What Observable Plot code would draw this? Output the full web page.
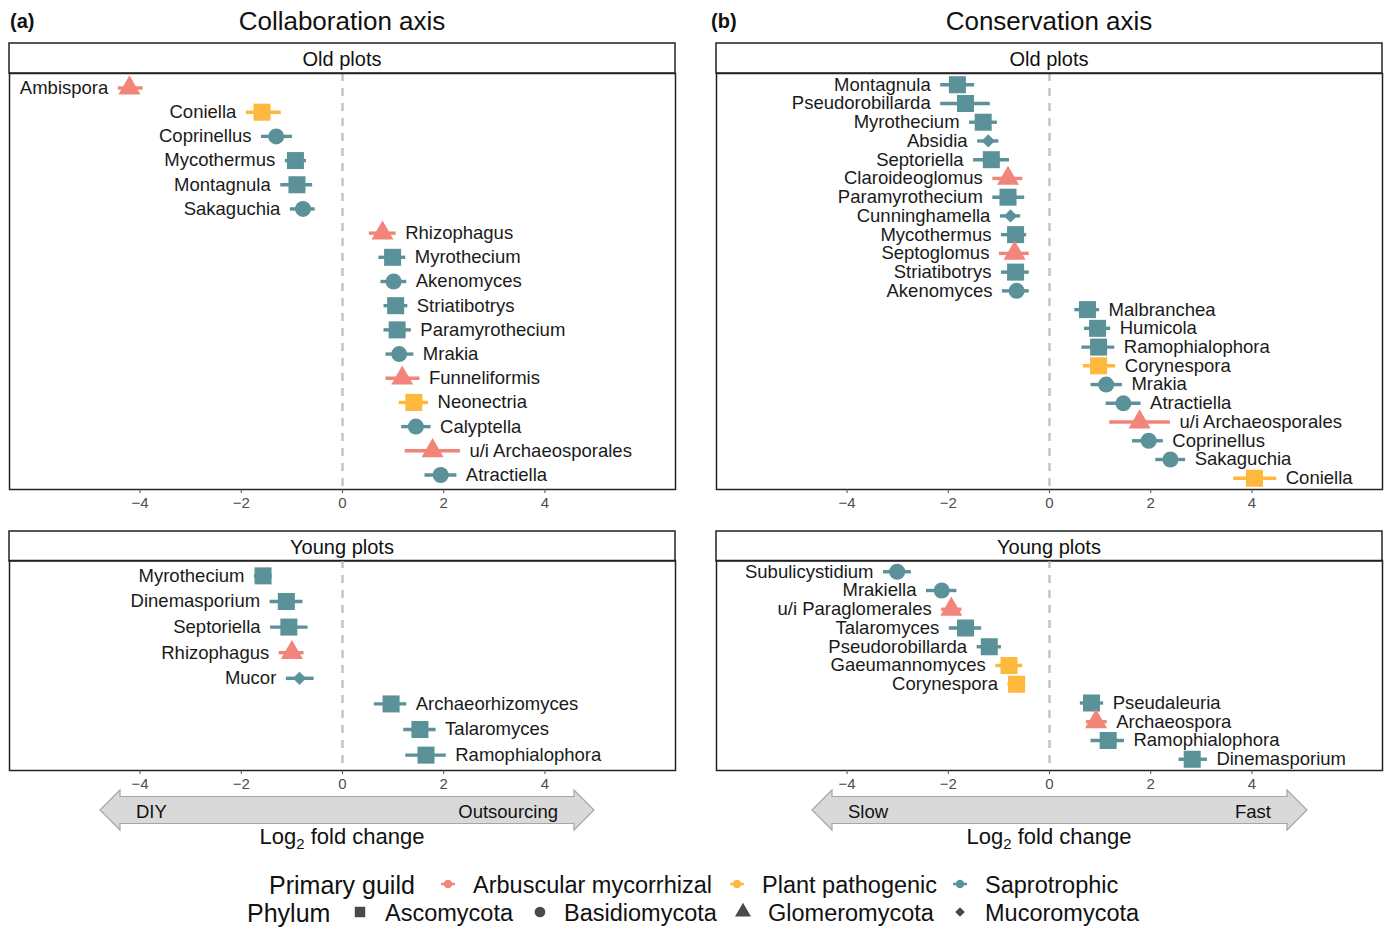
<!DOCTYPE html>
<html><head><meta charset="utf-8">
<script src="https://cdn.jsdelivr.net/npm/d3@7"></script>
<script src="https://cdn.jsdelivr.net/npm/@observablehq/plot@0.6"></script>
<style>
body{margin:0;background:#fff;font-family:"Liberation Sans",Arial,sans-serif;}
#root{position:relative;width:1389px;height:928px;overflow:hidden;background:#fff;}
#root > svg.panel{position:absolute;}
#overlay{position:absolute;left:0;top:0;}
svg.panel g[aria-label="x-axis tick label"]{font-size:15px !important;}
svg.panel g[aria-label="x-axis tick label"] text{font-size:15px !important;}
</style></head><body><div id="root"></div>
<script>
// ---------- categories ----------
const guildNames = ["Arbuscular mycorrhizal", "Plant pathogenic", "Saprotrophic"];
const guildColors = ["#F1857A", "#FDB83D", "#5B9198"];
const phylumNames = ["Ascomycota", "Basidiomycota", "Glomeromycota", "Mucoromycota"];
const xTicks = [-4, -2, 0, 2, 4];
const AM = "Arbuscular mycorrhizal", PP = "Plant pathogenic", SA = "Saprotrophic";
const ASC = "Ascomycota", BAS = "Basidiomycota", GLO = "Glomeromycota", MUC = "Mucoromycota";

// ---------- (a) Collaboration axis, Old plots ----------
const collabOldGenus = ["Ambispora","Coniella","Coprinellus","Mycothermus","Montagnula","Sakaguchia","Rhizophagus","Myrothecium","Akenomyces","Striatibotrys","Paramyrothecium","Mrakia","Funneliformis","Neonectria","Calyptella","u/i Archaeosporales","Atractiella"];
const collabOldLfc = [-4.21,-1.59,-1.31,-0.93,-0.90,-0.78,0.79,0.99,1.01,1.05,1.08,1.12,1.18,1.41,1.45,1.78,1.94];
const collabOldLo  = [-4.43,-1.90,-1.60,-1.13,-1.22,-1.03,0.53,0.72,0.76,0.82,0.82,0.86,0.86,1.12,1.17,1.24,1.63];
const collabOldHi  = [-3.94,-1.21,-0.99,-0.71,-0.59,-0.54,1.06,1.25,1.27,1.29,1.36,1.41,1.53,1.70,1.75,2.33,2.26];
const collabOldGuild = [AM,PP,SA,SA,SA,SA,AM,SA,SA,SA,SA,SA,AM,PP,SA,AM,SA];
const collabOldPhylum = [GLO,ASC,BAS,ASC,ASC,BAS,GLO,ASC,BAS,ASC,ASC,BAS,GLO,ASC,BAS,GLO,BAS];

// ---------- (a) Collaboration axis, Young plots ----------
const collabYoungGenus = ["Myrothecium","Dinemasporium","Septoriella","Rhizophagus","Mucor","Archaeorhizomyces","Talaromyces","Ramophialophora"];
const collabYoungLfc = [-1.57,-1.11,-1.06,-1.00,-0.85,0.96,1.53,1.65];
const collabYoungLo  = [-1.74,-1.43,-1.42,-1.25,-1.11,0.63,1.21,1.25];
const collabYoungHi  = [-1.39,-0.78,-0.68,-0.76,-0.56,1.27,1.85,2.05];
const collabYoungGuild = [SA,SA,SA,AM,SA,SA,SA,SA];
const collabYoungPhylum = [ASC,ASC,ASC,GLO,MUC,ASC,ASC,ASC];

// ---------- (b) Conservation axis, Old plots ----------
const consOldGenus = ["Montagnula","Pseudorobillarda","Myrothecium","Absidia","Septoriella","Claroideoglomus","Paramyrothecium","Cunninghamella","Mycothermus","Septoglomus","Striatibotrys","Akenomyces","Malbranchea","Humicola","Ramophialophora","Corynespora","Mrakia","Atractiella","u/i Archaeosporales","Coprinellus","Sakaguchia","Coniella"];
const consOldLfc = [-1.82,-1.66,-1.31,-1.21,-1.15,-0.82,-0.82,-0.77,-0.67,-0.69,-0.67,-0.65,0.75,0.95,0.97,0.97,1.12,1.46,1.78,1.96,2.39,4.05];
const consOldLo  = [-2.15,-2.15,-1.58,-1.42,-1.50,-1.12,-1.12,-0.97,-0.95,-0.99,-0.95,-0.93,0.50,0.69,0.64,0.67,0.82,1.12,1.19,1.64,2.10,3.64];
const consOldHi  = [-1.48,-1.17,-1.03,-1.00,-0.79,-0.53,-0.49,-0.57,-0.45,-0.40,-0.40,-0.40,0.99,1.21,1.29,1.31,1.44,1.81,2.39,2.25,2.69,4.49];
const consOldGuild = [SA,SA,SA,SA,SA,AM,SA,SA,SA,AM,SA,SA,SA,SA,SA,PP,SA,SA,AM,SA,SA,PP];
const consOldPhylum = [ASC,ASC,ASC,MUC,ASC,GLO,ASC,MUC,ASC,GLO,ASC,BAS,ASC,ASC,ASC,ASC,BAS,BAS,GLO,BAS,BAS,ASC];

// ---------- (b) Conservation axis, Young plots ----------
const consYoungGenus = ["Subulicystidium","Mrakiella","u/i Paraglomerales","Talaromyces","Pseudorobillarda","Gaeumannomyces","Corynespora","Pseudaleuria","Archaeospora","Ramophialophora","Dinemasporium"];
const consYoungLfc = [-3.01,-2.13,-1.94,-1.66,-1.19,-0.80,-0.65,0.83,0.92,1.16,2.82];
const consYoungLo  = [-3.28,-2.43,-2.13,-1.98,-1.43,-1.06,-0.82,0.61,0.73,0.82,2.56];
const consYoungHi  = [-2.73,-1.83,-1.73,-1.34,-0.95,-0.53,-0.49,1.07,1.14,1.48,3.12];
const consYoungGuild = [SA,SA,AM,SA,SA,PP,PP,SA,AM,SA,SA];
const consYoungPhylum = [BAS,BAS,GLO,ASC,ASC,ASC,ASC,ASC,GLO,ASC,ASC];

// ---------- drawing ----------
const FONT = '"Liberation Sans", Arial, sans-serif';
const symbolFor = {Ascomycota:["square",9.6], Basidiomycota:["circle",8.0], Glomeromycota:["triangle",8.2], Mucoromycota:["diamond2",6.0]};

function panel(genus, lfc, lo, hi, guild, phylum, innerH) {
  const data = genus.map((g, i) => ({genus: g, lfc: lfc[i], lo: lo[i], hi: hi[i], guild: guild[i], phylum: phylum[i]}));
  const dots = phylumNames.map(ph => {
    const [sym, r] = symbolFor[ph];
    return Plot.dot(data.filter(d => d.phylum === ph), {x: "lfc", y: "genus", fill: "guild", symbol: sym, r, stroke: "none"});
  });
  const svg = Plot.plot({
    width: 668, height: innerH + 1 + 32,
    marginLeft: 1, marginRight: 1, marginTop: 1, marginBottom: 32,
    style: {fontFamily: FONT, fontSize: "15px", background: "transparent", overflow: "visible"},
    x: {domain: [-6.58, 6.58]},
    y: {type: "point", domain: genus, padding: 0.6, round: false, axis: null},
    color: {domain: guildNames, range: guildColors},
    marks: [
      Plot.ruleX([0], {stroke: "#c4c4c4", strokeWidth: 2.5, strokeDasharray: "8,7"}),
      Plot.ruleY(data, {y: "genus", x1: "lo", x2: "hi", stroke: "guild", strokeWidth: 3.4}),
      ...dots,
      Plot.text(data.filter(d => d.lfc < 0), {x: "lo", y: "genus", text: "genus", textAnchor: "end", dx: -10, fontSize: 18.5, fill: "#1a1a1a"}),
      Plot.text(data.filter(d => d.lfc > 0), {x: "hi", y: "genus", text: "genus", textAnchor: "start", dx: 9, fontSize: 18.5, fill: "#1a1a1a"}),
      Plot.frame({stroke: "#222", strokeWidth: 1.5}),
      Plot.axisX({ticks: xTicks, tickSize: 4, tickPadding: 4, fontSize: 15, color: "#4d4d4d", label: null})
    ]
  });
  svg.classList.add("panel");
  svg.querySelectorAll('g[aria-label="x-axis tick label"]').forEach(g => g.setAttribute("font-size", 15));
  return svg;
}

const root = document.getElementById("root");

// overlay: titles, strips, arrows, axis titles, legend
const ov = d3.select(root).append("svg").attr("id", "overlay").attr("width", 1389).attr("height", 928)
  .style("font-family", FONT);

function txt(x, y, s, size, anchor = "start", weight = "normal", fill = "#111") {
  return ov.append("text").attr("x", x).attr("y", y).attr("font-size", size).attr("text-anchor", anchor)
    .attr("font-weight", weight).attr("dominant-baseline", "central").attr("fill", fill).text(s);
}

// panel titles
txt(10, 21, "(a)", 20, "start", "bold");
txt(342, 21, "Collaboration axis", 26, "middle");
txt(711, 21, "(b)", 20, "start", "bold");
txt(1049, 21, "Conservation axis", 26, "middle");

// strips
const strips = [[9, 43, "Old plots"], [9, 531, "Young plots"], [716, 43, "Old plots"], [716, 531, "Young plots"]];
for (const [x, y, s] of strips) {
  ov.append("rect").attr("x", x).attr("y", y).attr("width", 666).attr("height", 30)
    .attr("fill", "#fff").attr("stroke", "#222").attr("stroke-width", 1.5);
  txt(x + 333, y + 15.5, s, 20, "middle");
}

// arrows
function arrow(x0, x1, leftLab, rightLab) {
  const yc = 810, hw = 13.5, hh = 20, hl = 20;
  const pts = [[x0, yc], [x0 + hl, yc - hh], [x0 + hl, yc - hw], [x1 - hl, yc - hw], [x1 - hl, yc - hh], [x1, yc],
    [x1 - hl, yc + hh], [x1 - hl, yc + hw], [x0 + hl, yc + hw], [x0 + hl, yc + hh]];
  ov.append("polygon").attr("points", pts.map(p => p.join(",")).join(" "))
    .attr("fill", "#d9d9d9").attr("stroke", "#a6a6a6").attr("stroke-width", 1.2);
  txt(x0 + 36, yc + 1, leftLab, 18.5, "start");
  txt(x1 - 36, yc + 1, rightLab, 18.5, "end");
}
arrow(100, 594, "DIY", "Outsourcing");
arrow(812, 1307, "Slow", "Fast");

function axisTitle(cx) {
  const t = ov.append("text").attr("x", cx).attr("y", 836).attr("font-size", 22).attr("text-anchor", "middle")
    .attr("dominant-baseline", "central").attr("fill", "#111");
  t.append("tspan").text("Log");
  t.append("tspan").attr("font-size", 15).attr("dy", 7).text("2");
  t.append("tspan").attr("dy", -7).text(" fold change");
}
axisTitle(342);
axisTitle(1049);

// legend
txt(269, 885, "Primary guild", 25);
const guildKeyX = [448, 737, 960], guildLabX = [473, 762, 985];
guildNames.forEach((g, i) => {
  ov.append("line").attr("x1", guildKeyX[i] - 7).attr("x2", guildKeyX[i] + 7).attr("y1", 884).attr("y2", 884)
    .attr("stroke", guildColors[i]).attr("stroke-width", 2.5);
  ov.append("circle").attr("cx", guildKeyX[i]).attr("cy", 884).attr("r", 4.2).attr("fill", guildColors[i]);
  txt(guildLabX[i], 885, g, 23.5);
});
txt(247, 913, "Phylum", 25);
const phyKeyX = [360, 540, 743, 960], phyLabX = [385, 564, 768, 985];
const phySym = [d3.symbolSquare, d3.symbolCircle, d3.symbolTriangle, d3.symbolDiamond2];
const phySize = [110, 90, 110, 60];
phylumNames.forEach((p, i) => {
  ov.append("path").attr("d", d3.symbol(phySym[i], phySize[i])()).attr("transform", `translate(${phyKeyX[i]},${912})`)
    .attr("fill", "#4a4a4a");
  txt(phyLabX[i], 913, p, 23.5);
});

// panels
const pOldA = panel(collabOldGenus, collabOldLfc, collabOldLo, collabOldHi, collabOldGuild, collabOldPhylum, 416);
const pYoungA = panel(collabYoungGenus, collabYoungLfc, collabYoungLo, collabYoungHi, collabYoungGuild, collabYoungPhylum, 210);
const pOldB = panel(consOldGenus, consOldLfc, consOldLo, consOldHi, consOldGuild, consOldPhylum, 416);
const pYoungB = panel(consYoungGenus, consYoungLfc, consYoungLo, consYoungHi, consYoungGuild, consYoungPhylum, 210);
const place = [[pOldA, 8, 72], [pYoungA, 8, 559], [pOldB, 715, 72], [pYoungB, 715, 559]];
for (const [svg, x, y] of place) {
  svg.style.left = x + "px"; svg.style.top = y + "px"; svg.style.position = "absolute";
  root.appendChild(svg);
}
</script></body></html>
